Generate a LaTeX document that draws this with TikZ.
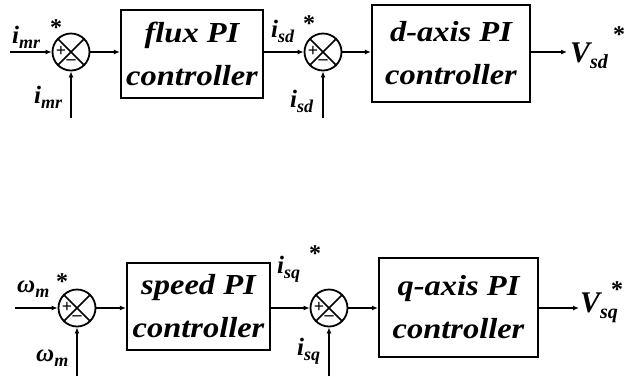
\documentclass[tikz,border=0pt]{standalone}
\usepackage{fontspec}
\setmainfont{Liberation Serif}
\newfontfamily\boxfont[FakeStretch=1.12]{Liberation Serif}
\usetikzlibrary{arrows.meta}
\newcommand{\vlab}[2]{\bfseries\itshape\fontsize{25}{25}\selectfont #1\raisebox{-5pt}{\fontsize{18}{18}\selectfont #2}}
\begin{document}
\begin{tikzpicture}[x=1pt,y=-1pt,
  blk/.style={draw, line width=2.2pt, inner sep=0pt, align=center,
    font=\boxfont\bfseries\itshape\fontsize{29}{43}\selectfont},
  sumc/.style={draw, circle, line width=1.8pt, minimum size=37pt, inner sep=0pt},
  sig/.style={line width=1.5pt, -{Latex[length=6pt,width=5pt]}},
  lab/.style={anchor=base west, inner sep=0pt},
  star/.style={inner sep=0pt, font=\bfseries\fontsize{24}{24}\selectfont},
  sgn/.style={inner sep=0pt, font=\bfseries\fontsize{18}{18}\selectfont}
]
\fill[white] (0,0) rectangle (634,376);
\useasboundingbox (0,0) rectangle (634,376);

% ---------- top row ----------
\node[sumc] (s1) at (71,52) {};
\node[blk, minimum width=142pt, minimum height=88pt] (b1) at (192,54) {flux PI\\controller};
\node[sumc] (s2) at (323,52) {};
\node[blk, minimum width=158pt, minimum height=97pt] (b2) at (451,53.5) {d-axis PI\\controller};
\coordinate (in1) at (10,52);
\coordinate (u1) at (71,118);
\coordinate (u2) at (323,118);
\coordinate (out1) at (567,52);

% ---------- bottom row ----------
\node[sumc] (s3) at (77,308) {};
\node[blk, minimum width=143pt, minimum height=87pt] (b3) at (198.5,306.5) {speed PI\\controller};
\node[sumc] (s4) at (329,308) {};
\node[blk, minimum width=159pt, minimum height=99pt] (b4) at (458.5,307.5) {q-axis PI\\controller};
\coordinate (in3) at (15,308);
\coordinate (u3) at (77,376);
\coordinate (u4) at (329,376);
\coordinate (out2) at (579,308);

% crosses and signs
\foreach \s in {s1,s2,s3,s4}{
  \draw[line width=1.7pt] (\s.north west) -- (\s.south east) (\s.north east) -- (\s.south west);
  \node[sgn] at ([xshift=-10pt,yshift=1pt]\s.center) {+};
  \node[sgn] at ([yshift=-10pt]\s.center) {--};
}

% connectors
\draw[sig] (in1) -- (s1.west);
\draw[sig] (u1) -- (s1.south);
\draw[sig] (s1.east) -- (b1.west |- s1.east);
\draw[sig] (b1.east |- s2.west) -- (s2.west);
\draw[sig] (u2) -- (s2.south);
\draw[sig] (s2.east) -- (b2.west |- s2.east);
\draw[sig] (b2.east |- s2.east) -- (out1);

\draw[sig] (in3) -- (s3.west);
\draw[sig] (u3) -- (s3.south);
\draw[sig] (s3.east) -- (b3.west |- s3.east);
\draw[sig] (b3.east |- s4.west) -- (s4.west);
\draw[sig] (u4) -- (s4.south);
\draw[sig] (s4.east) -- (b4.west |- s4.east);
\draw[sig] (b4.east |- s4.east) -- (out2);

% labels top
\node[lab] (l1) at (12,43) {\vlab{i}{mr}};
\node[star] (l1s) at (56,28) {*};
\node[lab] (l2) at (34,103) {\vlab{i}{mr}};
\node[lab] (l3) at (271,37) {\vlab{i}{sd}};
\node[star] (l3s) at (309,24) {*};
\node[lab] (l4) at (290,107) {\vlab{i}{sd}};
\node[lab] (l5) at (570,62) {\bfseries\itshape\fontsize{30}{30}\selectfont V\raisebox{-6pt}{\fontsize{20}{20}\selectfont sd}};
\node[star] (l5s) at (619,35) {*};

% labels bottom
\node[lab] (l6) at (17,292) {\vlab{ω}{m}};
\node[star] (l6s) at (62,282) {*};
\node[lab] (l7) at (36,361) {\vlab{ω}{m}};
\node[lab] (l8) at (277,273) {\vlab{i}{sq}};
\node[star] (l8s) at (315,254) {*};
\node[lab] (l9) at (297,355) {\vlab{i}{sq}};
\node[lab] (l10) at (580,312) {\bfseries\itshape\fontsize{30}{30}\selectfont V\raisebox{-6pt}{\fontsize{20}{20}\selectfont sq}};
\node[star] (l10s) at (617,290) {*};
\end{tikzpicture}
\end{document}
